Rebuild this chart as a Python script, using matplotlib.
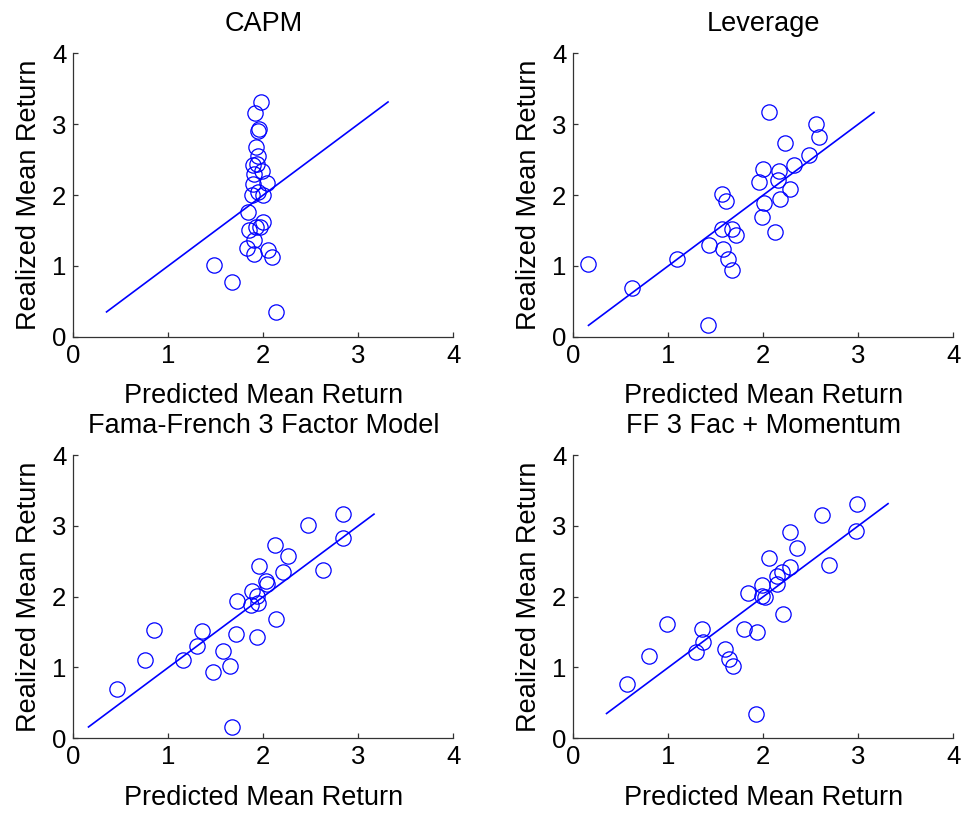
import matplotlib
matplotlib.use("Agg")
import matplotlib.pyplot as plt
import numpy as np

plt.rcParams['font.family'] = ['Liberation Sans', 'DejaVu Sans']

# Realized mean returns (sample A: CAPM / FF+Mom panels; sample B: Leverage / FF3 panels)
realized_a = [0.35, 0.767, 1.014, 1.12, 1.169, 1.222, 1.254, 1.365, 1.499, 1.55,
              1.55, 1.616, 1.755, 1.995, 2.006, 2.047, 2.16, 2.176, 2.298, 2.341,
              2.421, 2.44, 2.551, 2.68, 2.91, 2.93, 3.153, 3.313]
realized_b = [0.16, 0.694, 0.941, 1.021, 1.10, 1.103, 1.235, 1.299, 1.433, 1.475,
              1.52, 1.527, 1.687, 1.885, 1.915, 1.941, 2.014, 2.085, 2.177, 2.215,
              2.341, 2.374, 2.428, 2.571, 2.736, 2.824, 3.007, 3.165]

# Predicted mean returns per model
pred_capm = [2.133, 1.667, 1.481, 2.088, 1.902, 2.053, 1.832, 1.905, 1.846, 1.923,
             1.96, 2.0, 1.842, 1.884, 2.0, 1.944, 1.895, 2.035, 1.898, 1.982,
             1.888, 1.93, 1.944, 1.919, 1.94, 1.95, 1.909, 1.979]
pred_lev = [1.414, 0.614, 1.674, 0.151, 1.088, 1.625, 1.579, 1.428, 1.709, 2.119,
            1.568, 1.670, 1.986, 2.011, 1.604, 2.175, 1.568, 2.281, 1.958, 2.158,
            2.161, 1.993, 2.323, 2.481, 2.228, 2.589, 2.554, 2.056]
pred_ff3 = [1.67, 0.456, 1.47, 1.649, 1.158, 0.751, 1.572, 1.302, 1.93, 1.709,
            1.358, 0.849, 2.137, 1.867, 1.944, 1.719, 1.93, 1.877, 2.04, 2.03,
            2.204, 2.632, 1.958, 2.263, 2.119, 2.835, 2.474, 2.835]
pred_ffmom = [1.919, 0.561, 1.684, 1.642, 0.796, 1.288, 1.596, 1.368, 1.93, 1.351,
              1.796, 0.986, 2.204, 2.018, 1.983, 1.839, 1.982, 2.147, 2.14, 2.193,
              2.28, 2.695, 2.063, 2.358, 2.28, 2.975, 2.614, 2.982]

titles = ["CAPM", "Leverage", "Fama-French 3 Factor Model", "FF 3 Fac + Momentum"]
panels = [(pred_capm, realized_a), (pred_lev, realized_b),
          (pred_ff3, realized_b), (pred_ffmom, realized_a)]
ticks = [0, 1, 2, 3, 4]
xlabel = "Predicted Mean Return"
ylabel = "Realized Mean Return"

W, H = 963, 813
fig = plt.figure(figsize=(W / 100, H / 100), dpi=100)

lefts = [73.3, 573.3]
rows = [(53.3, 336.7), (455.0, 738.3)]
axw = 380.0
fs_tick = 18.5
fs = 19.5
blue = (0, 0, 1)

for i, (title, (px, ry)) in enumerate(zip(titles, panels)):
    r, c = divmod(i, 2)
    top, bot = rows[r]
    ax = fig.add_axes([lefts[c] / W, 1 - bot / H, axw / W, (bot - top) / H])
    ax.plot(px, ry, 'o', mfc='none', mec=blue, ms=11, mew=0.9)
    lo, hi = min(ry), max(ry)
    ax.plot([lo, hi], [lo, hi], '-', color=blue, lw=1.2)
    ax.set_xlim(0, 4)
    ax.set_ylim(0, 4)
    ax.set_xticks(ticks)
    ax.set_yticks(ticks)
    ax.spines['top'].set_visible(False)
    ax.spines['right'].set_visible(False)
    for s in ('left', 'bottom'):
        ax.spines[s].set_color('#333333')
        ax.spines[s].set_linewidth(0.9)
    ax.tick_params(direction='in', length=3.5, width=0.9, color='#333333',
                   labelsize=fs_tick, pad=5)
    ax.set_title(title, fontsize=fs, pad=16)
    ax.set_xlabel(xlabel, fontsize=fs, labelpad=11)
    ax.set_ylabel(ylabel, fontsize=fs, labelpad=7)

fig.savefig("out.png", dpi=100)
